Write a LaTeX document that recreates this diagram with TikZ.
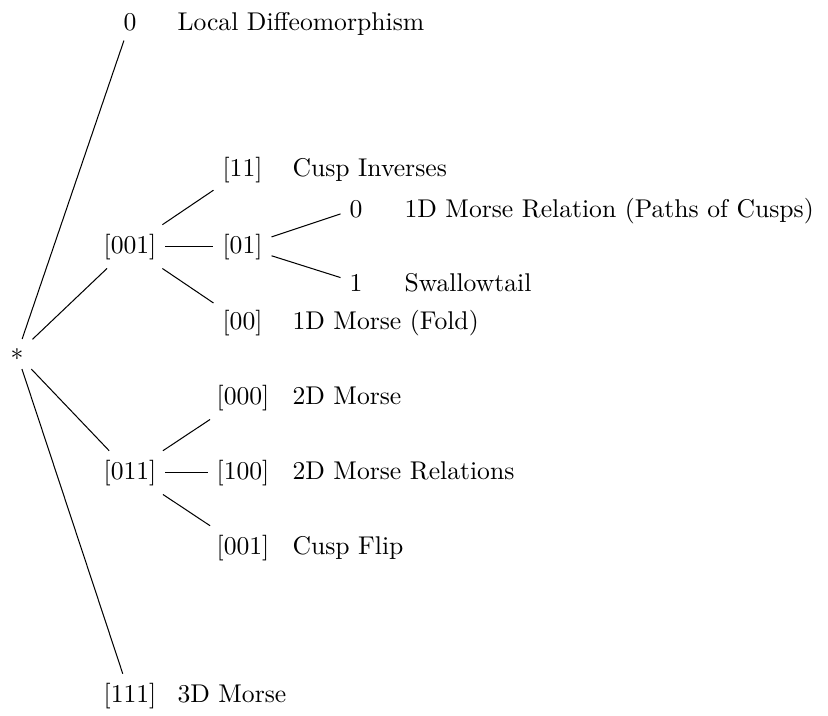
\documentclass[tikz,border=0pt]{standalone}
\begin{document}
\begin{tikzpicture}[x=0.3899pt,y=-0.3899pt,
  tn/.style={anchor=base},
  lab/.style={anchor=base west,inner sep=0pt},
  edge/.style={draw=black,line width=0.4pt}]
\useasboundingbox (0,0) rectangle (828,715);
% tree nodes
\node[tn] (r) at (17,360) {$*$};
\node[tn] (a) at (130,31) {0};
\node[tn] (b) at (130,253) {[001]};
\node[tn] (b1) at (242.5,177) {[11]};
\node[tn] (b2) at (242.5,253) {[01]};
\node[tn] (b20) at (356,217) {0};
\node[tn] (b21) at (356,291) {1};
\node[tn] (b3) at (242.5,329) {[00]};
\node[tn] (c) at (130,479) {[011]};
\node[tn] (c1) at (243,404) {[000]};
\node[tn] (c2) at (243,479) {[100]};
\node[tn] (c3) at (243,554) {[001]};
\node[tn] (d) at (130,702) {[111]};
% labels
\node[lab] (la) at (177,31) {Local Diffeomorphism};
\node[lab] (lb1) at (292,177) {Cusp Inverses};
\node[lab] (lb20) at (404,217) {1D Morse Relation (Paths of Cusps)};
\node[lab] (lb21) at (404,291) {Swallowtail};
\node[lab] (lb3) at (292,329) {1D Morse (Fold)};
\node[lab] (lc1) at (292,404) {2D Morse};
\node[lab] (lc2) at (292,479) {2D Morse Relations};
\node[lab] (lc3) at (292,554) {Cusp Flip};
\node[lab] (ld) at (177,702) {3D Morse};
% edges
\path[edge] (r) -- (a);
\path[edge] (r) -- (b);
\path[edge] (r) -- (c);
\path[edge] (r) -- (d);
\path[edge] (b) -- (b1);
\path[edge] (b) -- (b2);
\path[edge] (b) -- (b3);
\path[edge] (b2) -- (b20);
\path[edge] (b2) -- (b21);
\path[edge] (c) -- (c1);
\path[edge] (c) -- (c2);
\path[edge] (c) -- (c3);
\end{tikzpicture}
\end{document}
